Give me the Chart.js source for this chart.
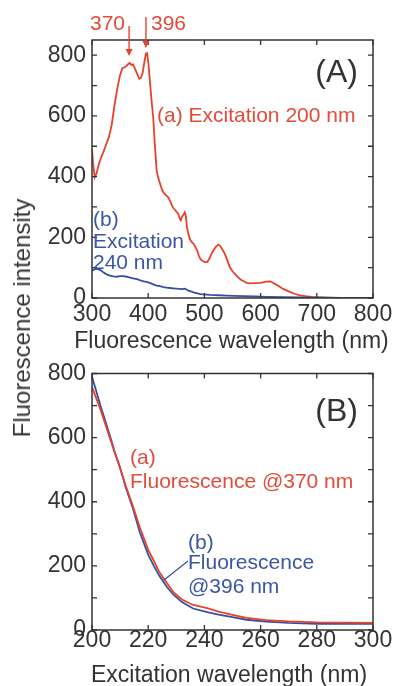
<!DOCTYPE html>
<html><head><meta charset="utf-8">
<script src="https://cdn.jsdelivr.net/npm/chart.js@4"></script>
<style>
html,body{margin:0;padding:0;background:#fff;}
#wrap{position:relative;width:397px;height:686px;overflow:hidden;background:#fff;}
#c1{position:absolute;left:0;top:0;}
#c2{position:absolute;left:0;top:356px;}
#ytitle{position:absolute;left:22px;top:318px;transform:translate(-50%,-50%) rotate(-90deg);font:24px "Liberation Sans",Arial,sans-serif;color:#333;white-space:nowrap;}
</style></head>
<body>
<div id="wrap">
<canvas id="c1" width="397" height="356"></canvas>
<canvas id="c2" width="397" height="330"></canvas>
<div id="ytitle">Fluorescence intensity</div>
</div>
<script>
// ---------- Data: panel A (emission spectra) ----------
const emWavelengthA = [300,302,305,308,312,316,320,325,330,335,340,345,350,354,358,361,364,367,370,373,376,380,384,387,390,393,396,398,400,403,406,409,412,415,418,421,424,427,431,436,440,444,448,451,453,456,458,460,463,465,467,469,471,474,477,480,484,487,490,493,497,501,505,509,513,517,521,525,528,532,536,540,545,550,555,560,565,570,575,580,590,600,610,617,622,628,634,640,646,652,660,670,680,690,700,710,720,735];
const emIntensityA = [490,440,398,410,440,462,480,505,530,570,635,690,735,757,760,764,770,774,768,770,757,740,722,725,741,775,805,807,780,715,650,593,500,420,395,377,360,348,340,331,315,298,290,282,279,262,256,268,275,282,270,233,215,195,185,180,168,157,140,128,122,118,118,130,148,160,170,176,172,160,147,128,102,88,78,68,60,55,50,48,49,50,54,55,50,44,37,30,25,20,14,9,6,4,3,2,1,0];
const emWavelengthB = [300,305,310,315,320,326,332,338,344,350,356,362,368,373,380,386,392,397,403,409,415,421,427,433,439,444,450,455,460,465,468,472,477,482,488,493,498,510,525,540,551,570,590,611,640,670,700,750,800];
const emIntensityB = [90,95,96,92,85,78,74,71,70,72,72,70,67,65,62,58,55,53,50,45,41,39,36,34,33,32,31,30,29,31,28,24,21,18,15,13,12,10,9,8,7,6,5,4,3,2,1,0.5,0];
const xTicksA = [300,400,500,600,700,800];
const yTicksA = [0,100,200,300,400,500,600,700,800];

// ---------- Data: panel B (excitation spectra) ----------
const exWavelength = [200,201,203,205,206.4,208,210,212,214.6,217,220,222,224,226.6,229,232,236,241,245,250,255,262,270,280,290,300];
const exIntensity370 = [758,735,688,635,598,555,506,450,385,320,250,216,180,147,118,95,78,68,57,47,38,31,27,24,23,22];
const exIntensity396 = [790,760,700,645,605,558,505,445,378,305,235,200,168,135,110,87,67,56,48,40,32,26,22,19,19,19];
const xTicksB = [200,220,240,260,280,300];
const yTicksB = [0,100,200,300,400,500,600,700,800];

const F = '"Liberation Sans", Arial, sans-serif';
const RED = '#e8412e', RED_T = '#e34b3a', BLUE = '#34509e', BLUE_T = '#3a56a5', DARK = '#333';

const framePlugin = {
  id: 'frame',
  afterDatasetsDraw(chart, args, o) {
    const {ctx, chartArea: a, scales: {x, y}} = chart;
    ctx.save();
    ctx.strokeStyle = DARK;
    ctx.lineWidth = 1.5;
    ctx.strokeRect(a.left, a.top, a.right - a.left, a.bottom - a.top);
    ctx.lineWidth = 1.3;
    ctx.beginPath();
    o.xTicks.forEach(v => { const p = x.getPixelForValue(v); ctx.moveTo(p, a.bottom); ctx.lineTo(p, a.bottom - 5); ctx.moveTo(p, a.top); ctx.lineTo(p, a.top + 5); });
    o.yTicks.forEach(v => { const p = y.getPixelForValue(v); ctx.moveTo(a.left, p); ctx.lineTo(a.left + 5, p); ctx.moveTo(a.right, p); ctx.lineTo(a.right - 5, p); });
    ctx.stroke();
    ctx.textBaseline = 'middle';
    (o.texts || []).forEach(t => {
      ctx.font = (t.size || 21) + 'px ' + F;
      ctx.fillStyle = t.color;
      ctx.textAlign = t.align || 'left';
      ctx.fillText(t.text, t.x, t.y);
    });
    (o.arrows || []).forEach(ar => {
      const px = x.getPixelForValue(ar.x);
      ctx.strokeStyle = ar.color; ctx.fillStyle = ar.color; ctx.lineWidth = 1.4;
      ctx.beginPath(); ctx.moveTo(px, ar.y0); ctx.lineTo(px, ar.y1 - 5); ctx.stroke();
      ctx.beginPath(); ctx.moveTo(px - 3.5, ar.y1 - 7); ctx.lineTo(px + 3.5, ar.y1 - 7); ctx.lineTo(px, ar.y1); ctx.closePath(); ctx.fill();
    });
    (o.leaders || []).forEach(l => {
      ctx.strokeStyle = l.color; ctx.lineWidth = 1.2;
      ctx.beginPath(); ctx.moveTo(l.x0, l.y0);
      ctx.lineTo(x.getPixelForValue(l.xv), y.getPixelForValue(l.yv)); ctx.stroke();
    });
    ctx.restore();
  }
};

function pts(xs, ys) { return xs.map((v, i) => ({x: v, y: ys[i]})); }

function makeChart(id, cfg) {
  return new Chart(document.getElementById(id), {
    type: 'line',
    data: {datasets: cfg.datasets.map(d => ({
      data: pts(d.x, d.y), borderColor: d.color, borderWidth: 1.8,
      pointRadius: 0, tension: 0, fill: false
    }))},
    options: {
      responsive: false, animation: false, devicePixelRatio: 1,
      layout: {padding: {left: 0, right: 24, top: cfg.padTop, bottom: 0}},
      plugins: {legend: {display: false}, tooltip: {enabled: false},
        frame: {xTicks: cfg.xTicks, yTicks: cfg.yTicks, texts: cfg.texts, arrows: cfg.arrows, leaders: cfg.leaders}},
      scales: {
        x: {type: 'linear', min: cfg.xMin, max: cfg.xMax,
          afterFit: s => { s.height = cfg.xH; },
          afterBuildTicks: s => { s.ticks = cfg.xLabels.map(v => ({value: v})); },
          grid: {display: false, drawTicks: false}, border: {display: false},
          ticks: {font: {family: F, size: 23, lineHeight: cfg.xTickLH}, color: DARK, padding: cfg.xTickPad, maxRotation: 0, autoSkip: false},
          title: {display: false}},
        y: {type: 'linear', min: cfg.yMin, max: cfg.yMax,
          afterFit: s => { s.width = 92; },
          afterBuildTicks: s => { s.ticks = cfg.yLabels.map(v => ({value: v})); },
          grid: {display: false, drawTicks: false}, border: {display: false},
          ticks: {font: {family: F, size: 23, lineHeight: 1}, color: DARK, padding: 6}}
      }
    },
    plugins: [framePlugin]
  });
}

makeChart('c1', {
  datasets: [{x: emWavelengthB, y: emIntensityB, color: BLUE}, {x: emWavelengthA, y: emIntensityA, color: RED}],
  xMin: 300, xMax: 800, yMin: 0, yMax: 850, padTop: 40, xH: 58, xTickLH: 1.2, xTickPad: 3,
  xLabels: xTicksA, yLabels: [0,200,400,600,800], xTicks: xTicksA, yTicks: yTicksA,
  texts: [
    {text: 'Fluorescence wavelength (nm)', x: 231.5, y: 342, color: DARK, size: 23, align: 'center'},
    {text: '370', x: 90, y: 24.5, color: RED_T},
    {text: '396', x: 151, y: 24.5, color: RED_T},
    {text: '(A)', x: 358, y: 73, color: DARK, size: 32, align: 'right'},
    {text: '(a) Excitation 200 nm', x: 157, y: 116, color: RED_T},
    {text: '(b)', x: 93, y: 220, color: BLUE_T},
    {text: 'Excitation', x: 93, y: 242, color: BLUE_T},
    {text: '240 nm', x: 93, y: 263, color: BLUE_T}
  ],
  arrows: [{x: 366, y0: 26, y1: 56, color: RED}, {x: 396, y0: 17, y1: 48, color: RED}],
  leaders: []
});

makeChart('c2', {
  datasets: [{x: exWavelength, y: exIntensity370, color: RED}, {x: exWavelength, y: exIntensity396, color: BLUE}],
  xMin: 200, xMax: 300, yMin: 0, yMax: 800, padTop: 14, xH: 56, xTickLH: 0.8, xTickPad: 1,
  xLabels: xTicksB, yLabels: [0,200,400,600,800], xTicks: xTicksB, yTicks: yTicksB,
  texts: [
    {text: 'Excitation wavelength (nm)', x: 229, y: 320, color: DARK, size: 23, align: 'center'},
    {text: '(B)', x: 358, y: 56, color: DARK, size: 32, align: 'right'},
    {text: '(a)', x: 130, y: 102, color: RED_T},
    {text: 'Fluorescence @370 nm', x: 130, y: 126, color: RED_T},
    {text: '(b)', x: 188, y: 187, color: BLUE_T},
    {text: 'Fluorescence', x: 188, y: 207, color: BLUE_T},
    {text: '@396 nm', x: 188, y: 231, color: BLUE_T}
  ],
  arrows: [],
  leaders: [{x0: 188, y0: 205, xv: 225.5, yv: 155, color: BLUE}]
});
</script>
</body></html>
